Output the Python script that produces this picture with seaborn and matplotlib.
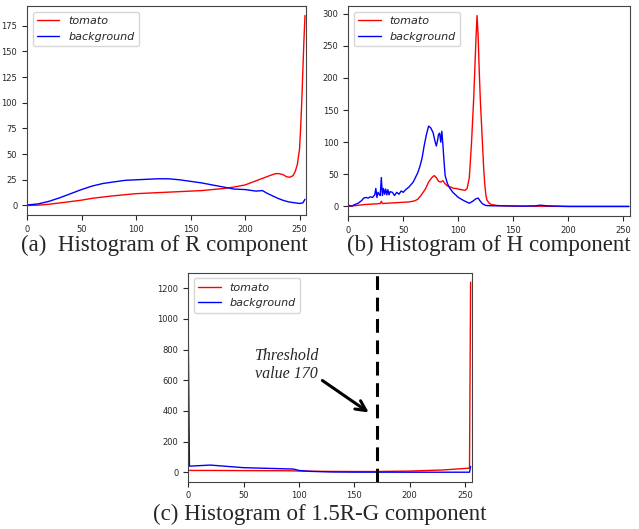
import matplotlib
matplotlib.use("Agg")
import matplotlib.pyplot as plt
import seaborn as sns

# (a) R component histogram
r_x_tomato = [0, 10, 20, 30, 40, 50, 60, 70, 80, 90, 100, 110, 120, 130, 140, 150, 160, 170, 180, 190,
              200, 205, 210, 215, 220, 225, 228, 231, 235, 238, 241, 244, 246, 248, 250, 251, 252, 253, 254, 255]
r_y_tomato = [0, 0.3, 1.2, 2.5, 3.8, 5.2, 7, 8.3, 9.5, 10.5, 11.5, 12, 12.5, 13, 13.5, 14, 14.5, 15.5, 16.5, 18,
              20, 22, 24, 26, 28, 30, 31, 31, 30, 28, 27.5, 29, 33, 40, 55, 75, 100, 130, 160, 185]
r_x_bg = [0, 10, 20, 30, 40, 50, 60, 70, 80, 90, 100, 110, 120, 130, 140, 150, 160, 170, 180, 190,
          200, 210, 216, 220, 225, 230, 235, 240, 245, 250, 253, 255]
r_y_bg = [0.5, 1.5, 4, 7.5, 11.5, 15.5, 19, 21.5, 23, 24.5, 25, 25.5, 26, 26, 25, 23.5, 22, 20, 18, 16,
          15.5, 14, 14.5, 12, 9.5, 7, 5, 3.5, 2.7, 2, 2.5, 6]

# (b) H component histogram
h_x_tomato = [0, 5, 10, 15, 20, 25, 29, 30, 31, 35, 40, 45, 50, 55, 60, 63, 66, 70, 73, 76, 78, 80, 82, 84,
              86, 88, 90, 93, 96, 98, 100, 103, 106, 108, 110, 112, 114, 116, 117, 118, 119, 120, 121, 122,
              123, 124, 125, 126, 128, 130, 135, 140, 150, 175, 200, 255]
h_y_tomato = [0, 1, 2, 3, 3.5, 4, 4.5, 8, 4.5, 5, 5.5, 6, 6.5, 7, 8.5, 11, 17, 27, 38, 45, 48, 45, 39, 38,
              40, 35, 32, 30, 28, 28, 27, 26, 25, 28, 45, 100, 170, 260, 297, 265, 210, 165, 130, 95,
              60, 35, 18, 10, 5, 3, 1.5, 1, 0.5, 0.3, 0, 0]
h_x_bg = [0, 3, 6, 9, 12, 14, 16, 18, 20, 22, 24, 25, 26, 27, 28, 29, 30, 31, 32, 33, 34, 35, 36, 37, 38,
          40, 42, 44, 46, 48, 50, 52, 55, 57, 59, 61, 63, 65, 67, 69, 71, 73, 75, 77, 79, 80, 81, 82, 83,
          84, 85, 86, 87, 88, 90, 92, 95, 100, 105, 110, 113, 116, 118, 120, 122, 125, 130, 140, 160,
          170, 175, 180, 200, 255]
h_y_bg = [2, 0.5, 3, 5, 9, 13, 14, 13, 15, 14, 18, 28, 14, 22, 19, 17, 45, 17, 28, 19, 27, 18, 26, 18, 23,
          22, 17, 22, 19, 24, 22, 26, 30, 34, 38, 45, 52, 62, 75, 95, 112, 125, 122, 115, 100, 94, 102, 112, 114,
          100, 117, 95, 70, 48, 36, 29, 22, 14, 9, 5, 8, 12, 13, 8, 4, 1.5, 1, 1, 0.5,
          1, 2, 1, 0, 0]

# (c) 1.5R-G component histogram
c_x_tomato = [0, 1, 20, 50, 90, 100, 120, 150, 170, 200, 230, 250, 254, 255]
c_y_tomato = [12, 12, 12, 11, 10, 8, 6, 5, 5, 8, 15, 25, 27, 1240]
c_x_bg = [0, 1, 20, 50, 90, 95, 100, 110, 130, 150, 200, 254, 255]
c_y_bg = [850, 40, 47, 30, 22, 21, 12, 6, 2, 1, 0.5, 0.5, 38]

threshold = 170
captions = ["(a)  Histogram of R component", "(b) Histogram of H component",
            "(c) Histogram of 1.5R-G component"]

sns.set_style("ticks")
plt.rcParams["font.family"] = ["DejaVu Sans"]

fig = plt.figure(figsize=(6.39, 5.29), dpi=100)
ax_a = fig.add_axes([0.0423, 0.5936, 0.4367, 0.3951])
ax_b = fig.add_axes([0.5451, 0.5917, 0.4408, 0.3970])
ax_c = fig.add_axes([0.2947, 0.0894, 0.4435, 0.3951])

panels = [
    (ax_a, r_x_tomato, r_y_tomato, r_x_bg, r_y_bg, [0, 25, 50, 75, 100, 125, 150, 175]),
    (ax_b, h_x_tomato, h_y_tomato, h_x_bg, h_y_bg, [0, 50, 100, 150, 200, 250, 300]),
    (ax_c, c_x_tomato, c_y_tomato, c_x_bg, c_y_bg, [0, 200, 400, 600, 800, 1000, 1200]),
]

for ax, xt, yt, xb, yb, yticks in panels:
    sns.lineplot(x=xt, y=yt, ax=ax, color="red", lw=1, label="tomato")
    sns.lineplot(x=xb, y=yb, ax=ax, color="blue", lw=1, label="background")
    ax.set_xlim(0, 256)
    ax.set_xticks([0, 50, 100, 150, 200, 250])
    ax.set_yticks(yticks)
    ax.tick_params(labelsize=6, length=3.5, width=0.8)
    for s in ax.spines.values():
        s.set_visible(True)
        s.set_color("#444444")
    leg = ax.legend(loc="upper left", prop={"style": "italic", "size": 8})

ax_c.axvline(threshold, color="black", ls=(0, (4.5, 2.5)), lw=2.2)
ax_c.annotate("Threshold\nvalue 170", xy=(163, 390), xytext=(60, 700),
              fontsize=11.5, family="Liberation Serif", style="italic", va="center", ha="left",
              linespacing=1.1,
              arrowprops=dict(arrowstyle="->", lw=2.2, color="black",
                              shrinkA=0, shrinkB=0, relpos=(1.0, 0.1),
                              mutation_scale=18))

fig.text(0.257, 0.537, captions[0], ha="center", va="center", fontsize=16.5, family="Liberation Serif")
fig.text(0.765, 0.537, captions[1], ha="center", va="center", fontsize=16.5, family="Liberation Serif")
fig.text(0.5, 0.027, captions[2], ha="center", va="center", fontsize=16.5, family="Liberation Serif")

fig.savefig("out.png", dpi=100)
